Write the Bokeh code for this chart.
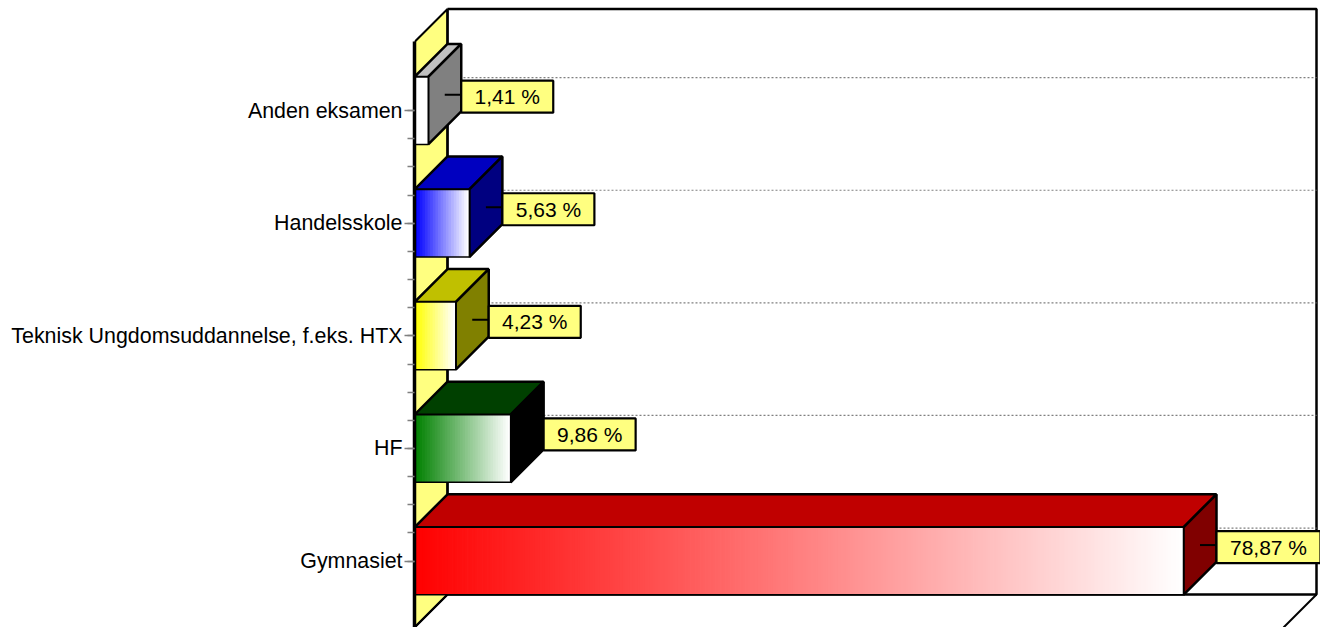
from bokeh.plotting import figure
from bokeh.embed import file_html
from bokeh.resources import INLINE
from bokeh.models import FixedTicker, LinearAxis
from bokeh.core.properties import value as V

categories = ["Gymnasiet", "HF", "Teknisk Ungdomsuddannelse, f.eks. HTX", "Handelsskole", "Anden eksamen"]
values = [78.87, 9.86, 4.23, 5.63, 1.41]
front_colors = [(255, 0, 0), (0, 128, 0), (255, 255, 0), (0, 0, 255), (255, 255, 255)]
top_colors = ["#C00000", "#004000", "#C0C000", "#0000C0", "#C0C0C0"]
side_colors = ["#800000", "#000000", "#808000", "#000080", "#808080"]
wall_color = "#FFFF80"

W, H = 1320, 627
LEFT = 414
PXX = 769 / 78.87          # pixels per percent
PXY = 112.6                # pixels per category
DX = 33 / PXX              # depth in data units
DY = 33 / PXY
HALF = 0.3
XMAX = 869 / PXX
YBOT = -0.59
YTOP = 4.61

x_end = (W - LEFT) / PXX
y_end = YBOT + H / PXY

p = figure(width=W, height=H, output_backend="svg", toolbar_location=None,
           x_range=(0, x_end), y_range=(YBOT, y_end),
           x_axis_type=None, y_axis_type=None,
           min_border_left=LEFT, min_border_right=0, min_border_top=0, min_border_bottom=0,
           outline_line_color=None, margin=(0, 0, 0, 0))
p.grid.visible = False

# y axis
ticks = list(range(len(categories)))
ax = LinearAxis(ticker=FixedTicker(ticks=ticks, minor_ticks=[i * 0.25 for i in range(17)]),
                major_label_overrides={i: c for i, c in enumerate(categories)},
                bounds=(YBOT, YTOP), level="overlay",
                axis_line_color="black", axis_line_width=3.5,
                major_tick_line_color="#808080", major_tick_out=10, major_tick_in=0,
                minor_tick_line_color="#808080", minor_tick_out=7, minor_tick_in=0,
                major_tick_line_width=1.5, minor_tick_line_width=1.5,
                major_label_text_font="Liberation Sans", major_label_text_font_size="21.4px",
                major_label_text_color="black", major_label_standoff=2)
p.add_layout(ax, "left")

# left wall
p.patch([0, DX, DX, 0], [YBOT, YBOT + DY, YTOP + DY, YTOP], fill_color=wall_color,
        line_color="black", line_width=2)
# back wall + floor
p.line([DX, XMAX + DX, XMAX + DX, DX, DX],
       [YTOP + DY, YTOP + DY, YBOT + DY, YBOT + DY, YTOP + DY], line_color="black", line_width=2.5)
p.line([0, DX], [YBOT, YBOT + DY], line_color="black", line_width=2)
p.line([XMAX, XMAX + DX], [YBOT, YBOT + DY], line_color="black", line_width=2)

# grid on the back wall
p.segment(x0=[DX] * len(ticks), x1=[XMAX + DX] * len(ticks),
          y0=[t + DY for t in ticks], y1=[t + DY for t in ticks],
          line_color="#808080", line_width=1.2, line_dash="2 2")

# bars, back to front
for i in reversed(range(len(categories))):
    v = values[i]
    y0, y1 = i - HALF, i + HALF
    # top and side
    p.patch([0, DX, v + DX, v], [y1, y1 + DY, y1 + DY, y1], fill_color=top_colors[i],
            line_color="black", line_width=2.5)
    p.patch([v, v + DX, v + DX, v], [y0, y0 + DY, y1 + DY, y1], fill_color=side_colors[i],
            line_color="black", line_width=2.5)
    # front: gradient to white
    n = max(4, int(v * PXX / 2.5))
    r, g, b = front_colors[i]
    cols, lefts, rights = [], [], []
    for k in range(n):
        t = k / (n - 1)
        cols.append("#%02x%02x%02x" % (round(r + (255 - r) * t), round(g + (255 - g) * t), round(b + (255 - b) * t)))
        lefts.append(v * k / n)
        rights.append(v * (k + 1) / n + (0.8 / PXX if k < n - 1 else 0))
    p.quad(left=lefts, right=rights, bottom=y0, top=y1, fill_color=cols, line_color=None)
    p.line([0, v, v, 0, 0], [y0, y0, y1, y1, y0], line_color="black", line_width=1.5)
    # label
    txt = f"{v:.2f} %".replace(".", ",")
    bw = (92 + (len(txt) - 6) * 12) / PXX
    bx = v + DX
    by1 = i + 30 / PXY
    by0 = i - 2 / PXY
    p.segment(x0=[v + DX / 2], x1=[bx], y0=[i + 16 / PXY], y1=[i + 16 / PXY], line_color="black", line_width=2)
    p.quad(left=[bx], right=[bx + bw], bottom=[by0], top=[by1], fill_color=wall_color,
           line_color="black", line_width=2.2)
    p.text(x=[bx + bw / 2], y=[(by0 + by1) / 2], text=[txt], text_align="center", text_baseline="middle",
           text_font=V("Liberation Sans"), text_font_size="21px", text_color="black")

open("out.html", "w").write(file_html(p, INLINE))
